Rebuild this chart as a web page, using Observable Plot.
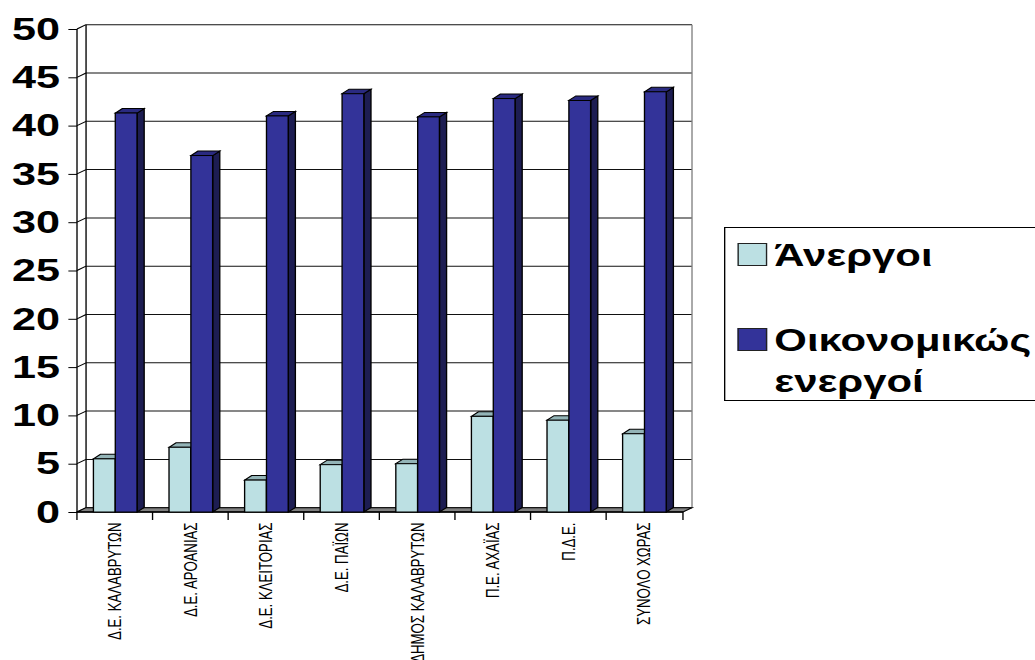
<!DOCTYPE html>
<html><head><meta charset="utf-8">
<script src="https://cdn.jsdelivr.net/npm/d3@7"></script>
<script src="https://cdn.jsdelivr.net/npm/@observablehq/plot@0.6"></script>
<style>
html,body{margin:0;padding:0;background:#fff;}
#wrap{position:relative;width:1035px;height:660px;overflow:hidden;}
#chart svg{display:block;}
#legend{position:absolute;left:724px;top:227px;width:240px;height:174px;box-sizing:border-box;border:1px solid #000;transform:scaleX(1.35);transform-origin:0 0;font-family:"Liberation Sans",Arial,sans-serif;font-weight:bold;font-size:31px;color:#000;}
.sw{position:absolute;left:8.5px;width:22.6px;height:23px;box-sizing:border-box;border:1px solid #222;}
.lt{position:absolute;left:36.3px;line-height:41px;white-space:nowrap;}
</style></head><body>
<div id="wrap"><div id="chart"></div><div id="legend"></div></div>
<script>
const categories = ["Δ.Ε. ΚΑΛΑΒΡΥΤΩΝ","Δ.Ε. ΑΡΟΑΝΙΑΣ","Δ.Ε. ΚΛΕΙΤΟΡΙΑΣ","Δ.Ε. ΠΑΪΩΝ","ΔΗΜΟΣ ΚΑΛΑΒΡΥΤΩΝ","Π.Ε. ΑΧΑΪΑΣ","Π.Δ.Ε.","ΣΥΝΟΛΟ ΧΩΡΑΣ"];
const seriesNames = ["Άνεργοι","Οικονομικώς<br>ενεργοί"];
const unemployed = [5.5, 6.7, 3.3, 4.9, 5.0, 9.9, 9.5, 8.1];
const active = [41.3, 36.9, 41.0, 43.3, 40.9, 42.8, 42.6, 43.5];
const yTicks = [0, 5, 10, 15, 20, 25, 30, 35, 40, 45, 50];

const frontColors = ["#bce0e3", "#333399"];
const topColors = ["#93b4b7", "#2a2a80"];
const sideColors = ["#6f8f92", "#1d1d52"];

// layout (virtual units; the whole chart is stretched horizontally by S)
const S = 1.35;
const W = 533, H = 660;
const mL = 57.04, mR = 27.1, mT = 29, mB = 148;
const bw = (W - mL - mR) / categories.length;
const WDX = 6.7, WDY = 4.3;   // wall depth offset
const BDX = 5.2, BDY = 4.5;   // bar depth offset
const inset0 = 12.2, barW = 16.2;

const seriesValues = [unemployed, active];
const rows = seriesValues.map((vals, s) => categories.map((c, i) => ({cat: c, value: vals[i], series: s})));

function walls(index, scales, values, dims) {
  const x = scales.x, y = scales.y;
  const x0 = dims.marginLeft, x1 = dims.width - dims.marginRight;
  const g = d3.create("svg:g").attr("fill", "none").attr("stroke", "#000").attr("stroke-width", 1);
  // back-wall gridlines
  for (const v of yTicks) {
    g.append("line").attr("x1", x0 + WDX).attr("x2", x1 + WDX)
      .attr("y1", y(v) - WDY).attr("y2", y(v) - WDY).attr("stroke", "#111");
  }
  // back wall edges
  g.append("line").attr("x1", x0 + WDX).attr("x2", x0 + WDX).attr("y1", y(0) - WDY).attr("y2", y(50) - WDY);
  g.append("line").attr("x1", x1 + WDX).attr("x2", x1 + WDX).attr("y1", y(0) - WDY).attr("y2", y(50) - WDY).attr("stroke", "#808080");
  // left wall diagonals
  for (const v of yTicks) {
    g.append("line").attr("x1", x0).attr("x2", x0 + WDX).attr("y1", y(v)).attr("y2", y(v) - WDY);
  }
  // front axis line
  g.append("line").attr("x1", x0).attr("x2", x0).attr("y1", y(0)).attr("y2", y(50));
  // floor
  g.append("path")
    .attr("d", `M${x0},${y(0)}L${x1},${y(0)}L${x1 + WDX},${y(0) - WDY}L${x0 + WDX},${y(0) - WDY}Z`)
    .attr("fill", "#808080").attr("stroke", "#000");
  g.append("line").attr("x1", x0).attr("x2", x1).attr("y1", y(0)).attr("y2", y(0)).attr("stroke-width", 1.4);
  // category boundary ticks
  const bounds = categories.map(c => x(c)).concat([x1]);
  for (const b of bounds) {
    g.append("line").attr("x1", b).attr("x2", b).attr("y1", y(0)).attr("y2", y(0) + 8);
  }
  return g.node();
}

function bar3d(s) {
  return function(index, scales, values, dims) {
    const x = scales.x, y = scales.y;
    const g = d3.create("svg:g").attr("stroke", "#000").attr("stroke-width", 1);
    const vals = seriesValues[s];
    categories.forEach((c, i) => {
      const xl = x(c) + inset0 + s * barW, xr = xl + barW;
      const yt = y(vals[i]), yb = y(0);
      g.append("path")
        .attr("d", `M${xr},${yt}L${xr + BDX},${yt - BDY}L${xr + BDX},${yb - BDY}L${xr},${yb}Z`)
        .attr("fill", sideColors[s]);
      g.append("path")
        .attr("d", `M${xl},${yt}L${xl + BDX},${yt - BDY}L${xr + BDX},${yt - BDY}L${xr},${yt}Z`)
        .attr("fill", topColors[s]);
    });
    return g.node();
  };
}

const marks = [walls];
rows.forEach((data, s) => {
  marks.push(bar3d(s));
  marks.push(Plot.barY(data, {
    x: "cat", y: "value",
    insetLeft: inset0 + s * barW,
    insetRight: bw - inset0 - (s + 1) * barW,
    fill: frontColors[s], stroke: "#000", strokeWidth: 1
  }));
});
marks.push(Plot.axisY({ticks: yTicks, label: null, tickSize: 6.4, tickPadding: 6.7, fontSize: 32, fontWeight: "bold", tickFormat: d => String(d)}));
marks.push(Plot.axisX({label: null, tickSize: 0, tickPadding: 10, tickRotate: -90, fontSize: 13.2}));

const chart = Plot.plot({
  width: W, height: H,
  marginLeft: mL, marginRight: mR, marginTop: mT, marginBottom: mB,
  style: {fontFamily: '"Liberation Sans", Arial, sans-serif', background: "white", color: "#000"},
  x: {type: "band", domain: categories, padding: 0, label: null},
  y: {domain: [0, 50], label: null},
  marks
});
chart.setAttribute("preserveAspectRatio", "none");
chart.setAttribute("width", W * S);
chart.setAttribute("height", H);
chart.style.width = (W * S) + "px";
chart.style.height = H + "px";
chart.style.maxWidth = "none";
chart.style.overflow = "hidden";
d3.select(chart).selectAll('g[aria-label="y-axis tick label"]').attr("font-size", 32).attr("font-weight", "bold");
d3.select(chart).selectAll('g[aria-label="x-axis tick label"]').attr("font-size", 13.2);
document.getElementById("chart").appendChild(chart);

// legend
const legend = d3.select("#legend");
const swTops = [14.7, 100.3];
const txtTops = [6.75, 92.45];
seriesNames.forEach((name, s) => {
  legend.append("div").attr("class", "sw").style("top", swTops[s] + "px").style("background", frontColors[s]);
  legend.append("div").attr("class", "lt").style("top", txtTops[s] + "px").html(name);
});
</script>
</body></html>
